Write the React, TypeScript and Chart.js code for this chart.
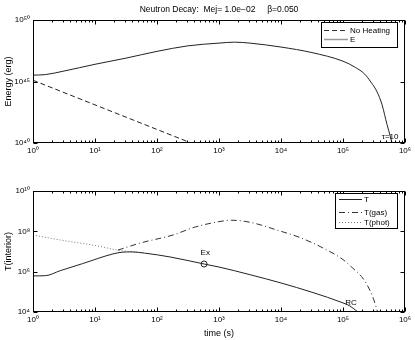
import React, { useEffect, useRef } from "react";
import { Chart, registerables } from "chart.js";
Chart.register(...registerables);

const FONT = '"Liberation Sans", Arial, Helvetica, sans-serif';
const TITLE = "Neutron Decay:  Mej= 1.0e\u221202     \u03b2=0.050";

// Top panel: energy
const eTime = [1, 1.58, 3.16, 10, 31.6, 100, 316, 1000, 1780, 3160, 1e4, 3.16e4, 1e5, 1.58e5, 2.24e5, 2.82e5, 3.55e5, 4.27e5, 5.13e5, 5.75e5, 6.17e5];
const eValue = [3.31e45, 3.63e45, 7.08e45, 2.51e46, 7.94e46, 2.82e47, 7.94e47, 1.32e48, 1.58e48, 1.32e48, 6.31e47, 2.24e47, 4.47e46, 1.41e46, 3.98e45, 8.91e44, 1.41e44, 1.26e43, 3.16e41, 3.98e40, 1.0e40];
const noHeatTime = [1, 10, 100, 300, 355];
const noHeatValue = [1.26e45, 1.26e43, 1.26e41, 1.4e40, 1.0e40];

// Bottom panel: temperatures
const tTime = [1, 1.58, 2.75, 6.31, 19.5, 28.2, 39.8, 63.1, 162, 575, 1000, 3160, 1e4, 3.16e4, 1e5, 1.29e5, 1.74e5];
const tValue = [6.17e5, 6.31e5, 1.12e6, 2.51e6, 7.59e6, 9.33e6, 9.55e6, 8.32e6, 5.37e6, 2.4e6, 1.7e6, 7.08e5, 2.75e5, 9.55e4, 2.82e4, 2.0e4, 1.0e4];
const gasTime = [23.4, 53.7, 182, 398, 1000, 1585, 3162, 1e4, 19953, 47863, 1e5, 1.41e5, 2.0e5, 2.45e5, 3.02e5, 3.63e5];
const gasValue = [1.17e7, 2.63e7, 6.61e7, 1.58e8, 3.02e8, 3.55e8, 2.82e8, 1.0e8, 5.01e7, 1.48e7, 3.98e6, 1.58e6, 5.62e5, 2.19e5, 5.62e4, 1.0e4];
const photTime = [1, 2.75, 10, 23.4, 35.5, 58.9];
const photValue = [6.61e7, 3.72e7, 2.0e7, 1.17e7, 1.0e7, 8.5e6];
const exTime = [575];
const exValue = [2.4e6];

const xTicks = [1, 10, 100, 1e3, 1e4, 1e5, 1e6];
const yTicksTop = [1e40, 1e45, 1e50];
const yTicksBottom = [1e4, 1e6, 1e8, 1e10];

const SUP: Record<string, string> = { "0": "\u2070", "1": "\u00b9", "2": "\u00b2", "3": "\u00b3", "4": "\u2074", "5": "\u2075", "6": "\u2076", "7": "\u2077", "8": "\u2078", "9": "\u2079", "-": "\u207b" };
function pow10Label(v: number) {
  const n = Math.round(Math.log10(v));
  return "10" + String(n).split("").map((c) => SUP[c]).join("");
}
const pts = (xs: number[], ys: number[]) => xs.map((x, i) => ({ x, y: ys[i] }));

const framePlugin = {
  id: "frame",
  afterDatasetsDraw(chart: any, _args: any, opts: any) {
    const { ctx, chartArea, scales } = chart;
    const { left, right, top, bottom } = chartArea;
    const x = scales.x, y = scales.y;
    ctx.save();
    ctx.strokeStyle = "#000";
    ctx.lineWidth = 1;
    ctx.setLineDash([]);
    const L = Math.round(left) + 0.5, R = Math.round(right) - 0.5, T = Math.round(top) + 0.5, B = Math.round(bottom) - 0.5;
    ctx.strokeRect(L, T, R - L, B - T);
    ctx.beginPath();
    for (let n = 0; n <= 6; n++) {
      for (let k = 1; k <= 9; k++) {
        if (n === 6 && k > 1) break;
        const px = Math.round(x.getPixelForValue(k * Math.pow(10, n))) + 0.5;
        const len = k === 1 ? 4 : 2;
        ctx.moveTo(px, B); ctx.lineTo(px, B - len);
        ctx.moveTo(px, T); ctx.lineTo(px, T + len);
      }
    }
    for (const v of opts.yTicks) {
      const py = Math.round(y.getPixelForValue(v)) + 0.5;
      ctx.moveTo(L, py); ctx.lineTo(L + 4, py);
      ctx.moveTo(R, py); ctx.lineTo(R - 4, py);
    }
    ctx.stroke();

    // annotations
    ctx.fillStyle = "#000";
    ctx.font = `8px ${FONT}`;
    ctx.textAlign = "center";
    ctx.textBaseline = "middle";
    for (const a of opts.notes || []) {
      ctx.fillText(a.text, x.getPixelForValue(a.x), y.getPixelForValue(a.y));
    }
    if (opts.title) {
      ctx.font = `8.5px ${FONT}`;
      ctx.fillText(opts.title, (left + right) / 2, 10);
    }

    // legend
    const lg = opts.legend;
    if (lg) {
      const [x1, y1, x2, y2] = lg.box;
      ctx.fillStyle = "#fff";
      ctx.fillRect(x1, y1, x2 - x1, y2 - y1);
      ctx.strokeStyle = "#000";
      ctx.lineWidth = 1;
      ctx.strokeRect(x1 + 0.5, y1 + 0.5, x2 - x1, y2 - y1);
      for (const it of lg.items) {
        ctx.beginPath();
        ctx.strokeStyle = it.color;
        ctx.lineWidth = it.width;
        ctx.setLineDash(it.dash);
        ctx.moveTo(lg.x1, it.y + 0.5);
        ctx.lineTo(lg.x2, it.y + 0.5);
        ctx.stroke();
        ctx.setLineDash([]);
        ctx.fillStyle = "#000";
        ctx.font = `8px ${FONT}`;
        ctx.textAlign = "left";
        ctx.textBaseline = "middle";
        ctx.fillText(it.label, lg.x2 + 2, it.y + 0.5);
      }
    }
    ctx.restore();
  },
};

function makeOptions(cfg: any) {
  const tickFont = { family: FONT, size: 8 };
  return {
    animation: false,
    responsive: false,
    maintainAspectRatio: false,
    layout: { padding: { top: cfg.padTop, right: 10, left: 0, bottom: 0 } },
    plugins: {
      legend: { display: false },
      tooltip: { enabled: false },
      title: { display: false },
      frame: cfg.frame,
    },
    elements: { point: { radius: 0 } },
    scales: {
      x: {
        type: "logarithmic",
        min: 1,
        max: 1e6,
        afterBuildTicks: (s: any) => { s.ticks = xTicks.map((v) => ({ value: v })); },
        afterFit: (s: any) => { s.height = cfg.xHeight; },
        grid: { display: false, drawTicks: false },
        border: { display: false },
        ticks: { callback: (v: any) => pow10Label(Number(v)), font: tickFont, color: "#000", padding: 3, maxRotation: 0, autoSkip: false },
        title: cfg.xTitle
          ? { display: true, text: cfg.xTitle, color: "#000", font: { family: FONT, size: 9 }, padding: { top: 0, bottom: 1 } }
          : { display: false },
      },
      y: {
        type: "logarithmic",
        min: cfg.yMin,
        max: cfg.yMax,
        afterBuildTicks: (s: any) => { s.ticks = cfg.yTicks.map((v: number) => ({ value: v })); },
        afterFit: (s: any) => { s.width = 33; },
        grid: { display: false, drawTicks: false },
        border: { display: false },
        ticks: { callback: (v: any) => pow10Label(Number(v)), font: tickFont, color: "#000", padding: 3, autoSkip: false },
        title: { display: true, text: cfg.yTitle, color: "#000", font: { family: FONT, size: 9 }, padding: { top: 3, bottom: 0 } },
      },
    },
  };
}

export default function App() {
  const topRef = useRef<HTMLCanvasElement>(null);
  const botRef = useRef<HTMLCanvasElement>(null);

  useEffect(() => {
    const line = (label: string, data: any, color: string, dash: number[]) => ({
      label, data, borderColor: color, borderWidth: 1, borderDash: dash,
      pointRadius: 0, fill: false, cubicInterpolationMode: "monotone" as const,
    });
    const top = new Chart(topRef.current!, {
      type: "line",
      data: {
        datasets: [
          line("No Heating", pts(noHeatTime, noHeatValue), "#222", [5, 3]),
          line("E", pts(eTime, eValue), "#222", []),
        ],
      },
      options: makeOptions({
        padTop: 20, xHeight: 27, yMin: 1e40, yMax: 1e50, yTicks: yTicksTop, yTitle: "Energy (erg)",
        frame: {
          yTicks: yTicksTop,
          title: TITLE,
          notes: [{ text: "\u03c4=10", x: 5.75e5, y: 3.1e40 }],
          legend: {
            box: [321, 22, 397, 47], x1: 324, x2: 348,
            items: [
              { label: "No Heating", y: 30, color: "#333", width: 1, dash: [5, 3] },
              { label: "E", y: 39, color: "#999", width: 1.5, dash: [] },
            ],
          },
        },
      }) as any,
      plugins: [framePlugin],
    });
    const bot = new Chart(botRef.current!, {
      type: "line",
      data: {
        datasets: [
          line("T", pts(tTime, tValue), "#222", []),
          line("T(gas)", pts(gasTime, gasValue), "#333", [6, 3, 1, 3]),
          line("T(phot)", pts(photTime, photValue), "#777", [1, 2]),
          {
            label: "Ex", data: pts(exTime, exValue), showLine: false, pointRadius: 3,
            pointBorderColor: "#222", pointBackgroundColor: "rgba(0,0,0,0)", pointBorderWidth: 1,
          } as any,
        ],
      },
      options: makeOptions({
        padTop: 21, xHeight: 28, yMin: 1e4, yMax: 1e10, yTicks: yTicksBottom, yTitle: "T(interior)", xTitle: "time (s)",
        frame: {
          yTicks: yTicksBottom,
          notes: [
            { text: "Ex", x: 600, y: 8.5e6 },
            { text: "RC", x: 1.35e5, y: 2.8e4 },
          ],
          legend: {
            box: [335, 23, 397, 58], x1: 339, x2: 362,
            items: [
              { label: "T", y: 29, color: "#222", width: 1, dash: [] },
              { label: "T(gas)", y: 42, color: "#333", width: 1, dash: [6, 3, 1, 3] },
              { label: "T(phot)", y: 52, color: "#777", width: 1, dash: [1, 2] },
            ],
          },
        },
      }) as any,
      plugins: [framePlugin],
    });
    return () => { top.destroy(); bot.destroy(); };
  }, []);

  return (
    <div style={{ position: "fixed", left: 0, top: 0, width: 415, height: 340, background: "#fff" }}>
      <canvas ref={topRef} width={415} height={170} style={{ display: "block", width: 415, height: 170 }} />
      <canvas ref={botRef} width={415} height={170} style={{ display: "block", width: 415, height: 170 }} />
    </div>
  );
}
